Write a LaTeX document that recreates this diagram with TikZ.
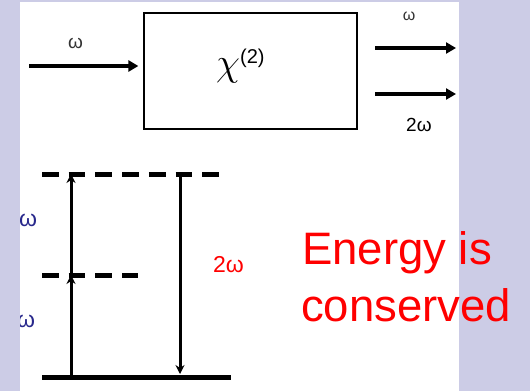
\RequirePackage{fix-cm}
\documentclass[tikz,border=0pt]{standalone}
\usepackage{fontspec}
\setmainfont{Liberation Sans}
\usetikzlibrary{arrows.meta}
\definecolor{slidebg}{RGB}{204,204,230}
\definecolor{omegablue}{RGB}{40,40,140}
\newcommand{\fsz}[1]{\fontsize{#1}{#1}\selectfont}

\begin{document}
\begin{tikzpicture}[
  x=1pt, y=-1pt,
  every node/.style={inner sep=0pt},
  beam/.style={line width=4pt, -{Triangle[length=10pt,width=11pt]}},
  level/.style={line width=5pt},
  virtual/.style={level, dash pattern=on 16.7pt off 10pt},
  photon/.style={line width=3pt, -{Stealth[length=9pt,width=9pt]}},
  freq/.style={font=\fsz{19}, text=black!80}
]
% Slide background and white panel.
\fill[slidebg] (0,0) rectangle (530,391);
\fill[white] (20,2) rectangle (459,391);
\useasboundingbox (0,0) rectangle (530,391);

% Second-order medium with input and output beams.
\node[draw, line width=1.2pt, minimum width=213pt, minimum height=116pt] (chi) at (250.5,71) {};
\node[anchor=base west] (chilabel) at (216,75) {\fsz{39}$\chi$\raisebox{12pt}{\fsz{20}(2)}};
\coordinate (src) at (29,66);
\draw[beam, shorten >=5pt] (src) -- (src -| chi.west);
\coordinate (outa) at (375,48);
\coordinate (outae) at (456,48);
\coordinate (outb) at (375,94);
\coordinate (outbe) at (456,94);
\draw[beam] (outa) -- (outae);
\draw[beam] (outb) -- (outbe);
\node[freq] (win) at (75.5,43.5) {ω};
\node[freq, font=\fsz{16}] (wout) at (409,16) {ω};
\node[anchor=base west, font=\fsz{19}] (wsh) at (406,131) {2ω};

% Energy levels: ground, virtual and upper.
\coordinate (g0) at (42,377);
\coordinate (g1) at (231,377);
\coordinate (m0) at (42,275);
\coordinate (m1) at (138,275);
\coordinate (t0) at (42,174);
\coordinate (t1) at (220,174);
\draw[level] (g0) -- (g1);
\draw[virtual] (m0) -- (m1);
\draw[virtual] (t0) -- (t1);

% Two pump photons up, one photon down.
\coordinate (pump) at (71,0);
\coordinate (emit) at (180,0);
\draw[photon] (pump |- g0) -- (pump |- m0);
\draw[photon] (pump |- m0) -- (pump |- t0);
\draw[photon, shorten >=3pt] (emit |- t0) -- (emit |- g0);

\begin{scope}
\clip (20,2) rectangle (459,391);
\node[text=omegablue, font=\fsz{23}] (wlowa) at (28,220) {ω};
\node[text=omegablue, font=\fsz{23}] (wlowb) at (26,321) {ω};
\end{scope}
\node[anchor=base west, font=\fsz{23}, text=red] (wsum) at (213,272) {2ω};
\node[anchor=base west, font=\fsz{45.5}, text=red] (energy) at (302,264) {Energy is};
\node[anchor=base west, font=\fsz{45.5}, text=red] (conserved) at (301,321) {conserved};
\end{tikzpicture}
\end{document}
